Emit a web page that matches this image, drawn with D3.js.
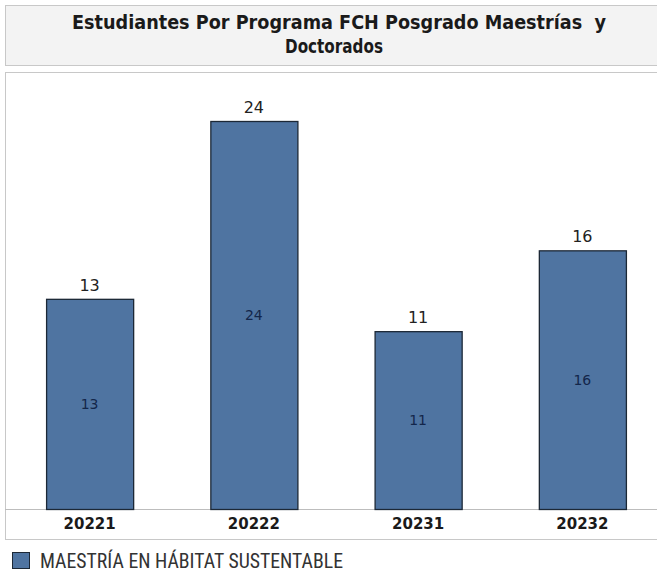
<!DOCTYPE html>
<html><head><meta charset="utf-8">
<script src="https://cdn.jsdelivr.net/npm/d3@7"></script>
<style>body{margin:0;background:#fff}svg{display:block}</style>
</head><body>
<svg id="c" width="657" height="575"></svg>
<script>
const categories = ["20221", "20222", "20231", "20232"];
const values = [13, 24, 11, 16];
const seriesName = "MAESTRÍA EN HÁBITAT SUSTENTABLE";
const titleLines = ["Estudiantes Por Programa FCH Posgrado Maestrías  y", "Doctorados"];

const svg = d3.select("#c");
const W = 657;
// title box
svg.append("rect").attr("x", 5.5).attr("y", 5.5).attr("width", 670).attr("height", 60)
  .attr("fill", "#f3f3f3").attr("stroke", "#c8c8c8");
const titleLayout = [{x: 72, y: 29, len: 534}, {x: 285, y: 53, len: 98}];
svg.append("g").selectAll("text").data(titleLines).join("text")
  .attr("x", (d, i) => titleLayout[i].x).attr("y", (d, i) => titleLayout[i].y)
  .attr("textLength", (d, i) => titleLayout[i].len).attr("lengthAdjust", "spacingAndGlyphs")
  .style("white-space", "pre")
  .style("font-family", "'DejaVu Sans',sans-serif").style("font-weight", "bold")
  .style("font-size", "19px").attr("fill", "#1a1a1a").text(d => d);

// chart box
svg.append("rect").attr("x", 5.5).attr("y", 72.5).attr("width", 670).attr("height", 467)
  .attr("fill", "#fff").attr("stroke", "#c8c8c8");

const baseY = 509;
const x = d3.scaleBand().domain(categories).range([7.5, 664.5]).paddingInner(0.47).paddingOuter(0.235);
const y = d3.scaleLinear().domain([0, 24]).range([baseY, 121]);

svg.append("line").attr("x1", 5).attr("x2", W).attr("y1", baseY + 0.5).attr("y2", baseY + 0.5)
  .attr("stroke", "#bdbdbd");

svg.selectAll("rect.bar").data(values).join("rect").attr("class", "bar")
  .attr("x", (d, i) => x(categories[i]) + 0.5).attr("y", d => y(d) + 0.5)
  .attr("width", x.bandwidth()).attr("height", d => baseY - y(d))
  .attr("fill", "#4f74a1").attr("stroke", "#1c2836").attr("stroke-width", 1.3);

svg.selectAll("text.top").data(values).join("text").attr("class", "top")
  .attr("x", (d, i) => x(categories[i]) + x.bandwidth() / 2).attr("y", d => y(d) - 8)
  .attr("text-anchor", "middle").style("font-family", "'DejaVu Sans',sans-serif")
  .style("font-size", "16px").attr("fill", "#222").text(d => d);

svg.selectAll("text.mid").data(values).join("text").attr("class", "mid")
  .attr("x", (d, i) => x(categories[i]) + x.bandwidth() / 2).attr("y", d => (y(d) + baseY) / 2 + 5)
  .attr("text-anchor", "middle").style("font-family", "'DejaVu Sans',sans-serif")
  .style("font-size", "14px").attr("fill", "#13264a").text(d => d);

const xAxis = d3.axisBottom(x).tickSize(0).tickPadding(0);
const ax = svg.append("g").attr("transform", `translate(0,${baseY})`).call(xAxis);
ax.select(".domain").remove();
ax.selectAll("text").attr("y", 20).attr("dy", 0)
  .style("font-family", "'DejaVu Sans',sans-serif").style("font-weight", "bold")
  .style("font-size", "15px").attr("fill", "#1a1a1a");

// legend
svg.append("rect").attr("x", 12.5).attr("y", 552.5).attr("width", 17).attr("height", 16)
  .attr("fill", "#4f74a1").attr("stroke", "#1c2836");
svg.append("text").attr("x", 40).attr("y", 568)
  .attr("textLength", 303).attr("lengthAdjust", "spacingAndGlyphs")
  .style("font-family", "'Liberation Sans Narrow','Roboto Condensed','Liberation Sans',sans-serif")
  .style("font-size", "20px").attr("fill", "#333").text(seriesName);
</script>
</body></html>
